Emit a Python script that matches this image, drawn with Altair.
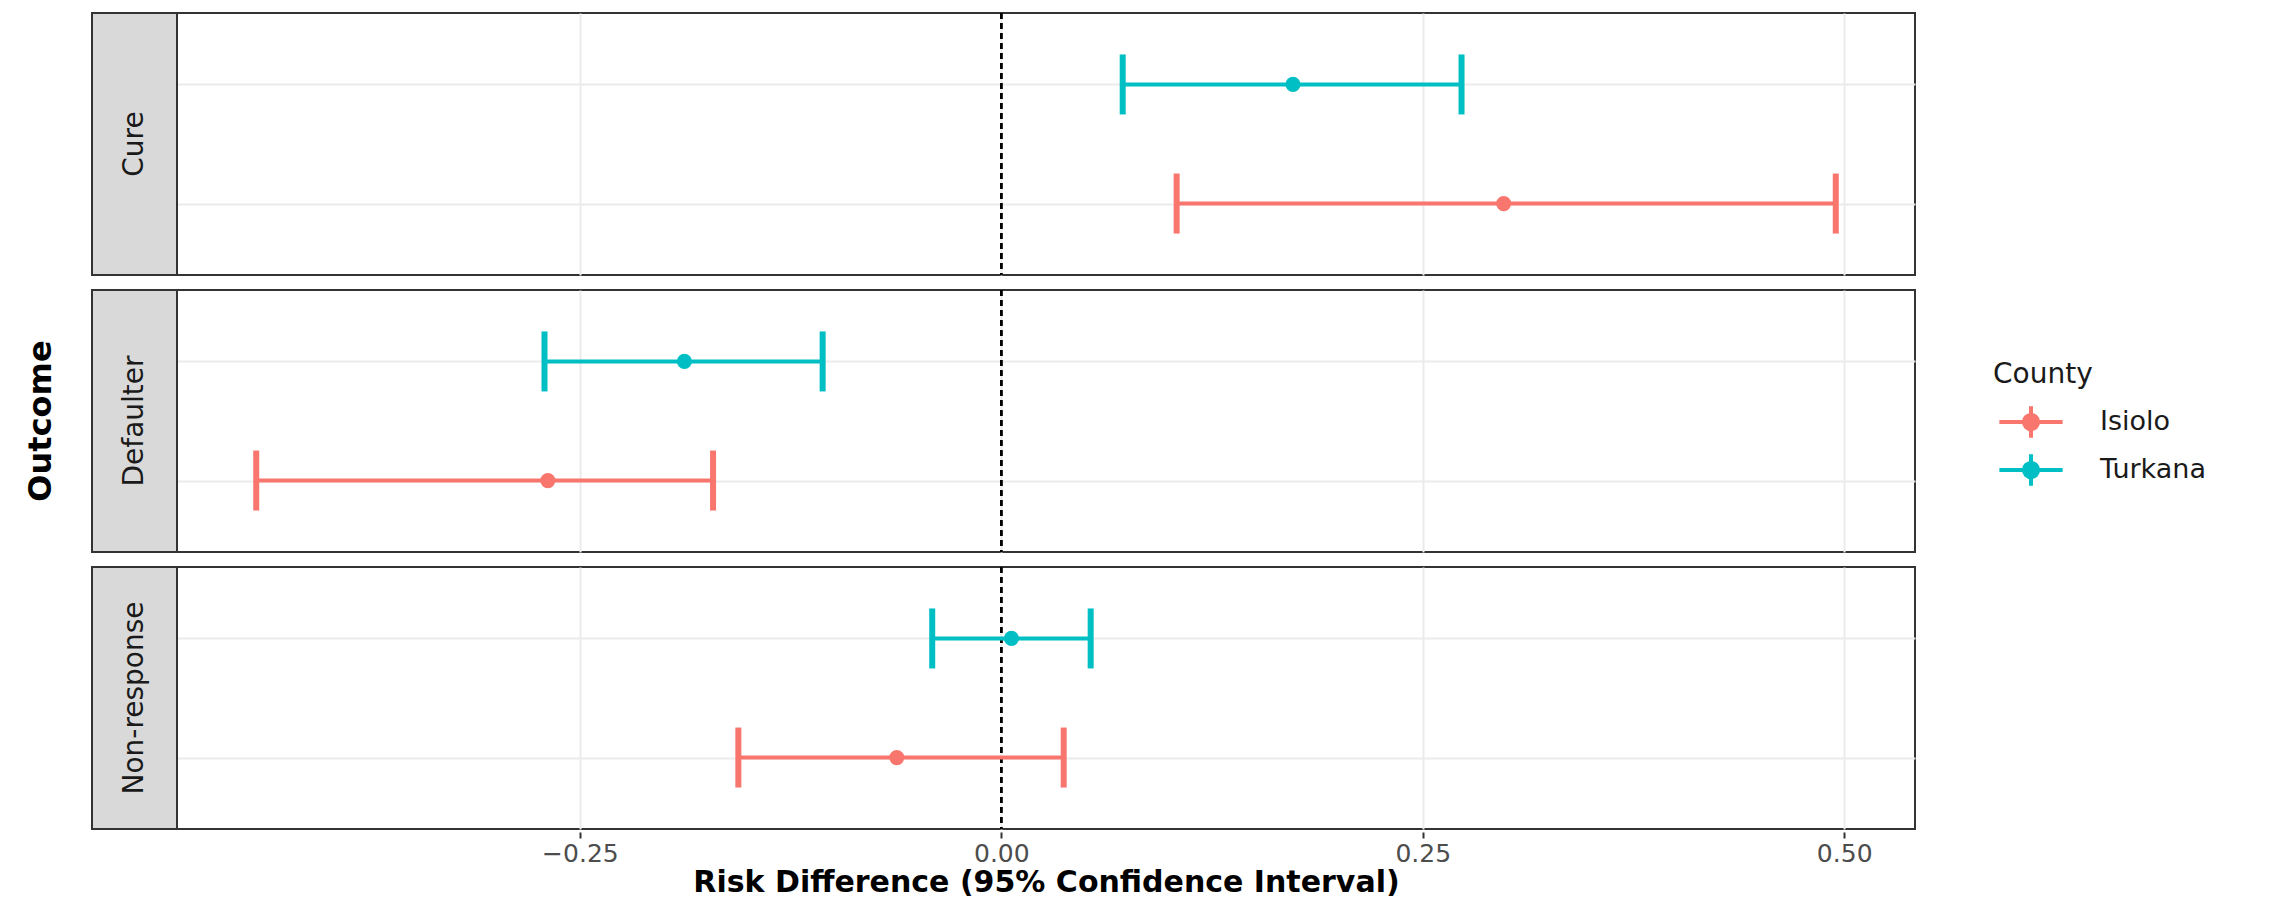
import altair as alt
import pandas as pd

# Data
outcomes = ["Cure", "Cure", "Defaulter", "Defaulter", "Non-response", "Non-response"]
counties = ["Turkana", "Isiolo", "Turkana", "Isiolo", "Turkana", "Isiolo"]
risk_diff = [0.173, 0.298, -0.188, -0.269, 0.006, -0.062]
ci_lower = [0.072, 0.104, -0.271, -0.442, -0.041, -0.156]
ci_upper = [0.273, 0.495, -0.106, -0.171, 0.053, 0.037]

outcome_order = ["Cure", "Defaulter", "Non-response"]
county_order = ["Isiolo", "Turkana"]
county_colors = ["#F8766D", "#00BFC4"]
x_ticks = [-0.25, 0.0, 0.25, 0.5]

df = pd.DataFrame({
    "outcome": outcomes,
    "county": counties,
    "rd": risk_diff,
    "lower": ci_lower,
    "upper": ci_upper,
})

W = 1823
H = 262
STRIP = 85
FONT = "DejaVu Sans"

xscale = alt.Scale(domain=[-0.489, 0.542], range=[STRIP, W], nice=False, zero=False)
xaxis = alt.Axis(values=x_ticks, format=".2f", labelFontSize=25, labelColor="#4D4D4D",
                 labelFont=FONT, tickColor="#333333", tickSize=6, tickWidth=2,
                 labelPadding=3, domain=False, grid=True, gridColor="#EBEBEB", gridWidth=2,
                 title="Risk Difference (95% Confidence Interval)", titleFont=FONT,
                 titleFontSize=30, titleFontWeight="bold", titleColor="black", titlePadding=1)

yenc = alt.Y("county:N",
             scale=alt.Scale(type="point", padding=0.6, domain=["Turkana", "Isiolo"]),
             axis=alt.Axis(labels=False, ticks=False, domain=False, title=None,
                           grid=True, gridColor="#EBEBEB", gridWidth=2))

cscale = alt.Scale(domain=county_order, range=county_colors)

legend = alt.Legend(
    title="County", orient="none", legendX=1901, legendY=348,
    titleFont=FONT, titleFontSize=28, titleFontWeight="normal", titleColor="#1A1A1A",
    titlePadding=15,
    labelFont=FONT, labelFontSize=27, labelColor="#1A1A1A", labelOffset=51,
    symbolOffset=20,
    symbolType="M-2,0H2M0,-1V1M0.45,0A0.45,0.45,0,1,1,-0.45,0A0.45,0.45,0,1,1,0.45,0Z",
    symbolSize=1000, symbolStrokeWidth=4, symbolOpacity=1, rowPadding=0,
)

color_leg = alt.Color("county:N", scale=cscale, legend=legend)

base = alt.Chart()

strip = base.mark_rect(fill="#D9D9D9", stroke="#333333", strokeWidth=2).encode(
    x=alt.value(0), x2=alt.value(STRIP), y=alt.value(0), y2=alt.value(H)
).transform_filter(alt.datum.county == "Isiolo")

strip_text = base.mark_text(angle=270, fontSize=28, font=FONT, color="#1A1A1A").encode(
    x=alt.value(STRIP / 2), y=alt.value(H / 2), text="outcome:N"
).transform_filter(alt.datum.county == "Isiolo")

vline = base.mark_rule(strokeDash=[6, 4], strokeWidth=2.5, color="black").encode(
    x=alt.datum(0, scale=xscale)
)

bars = base.mark_rule(strokeWidth=4).encode(
    x=alt.X("lower:Q", scale=xscale, axis=xaxis), x2="upper:Q", y=yenc, color=color_leg
)
cap_lo = base.mark_tick(size=60, thickness=6, opacity=1).encode(
    x=alt.X("lower:Q", scale=xscale, axis=xaxis), y=yenc, color=color_leg
)
cap_hi = base.mark_tick(size=60, thickness=6, opacity=1).encode(
    x=alt.X("upper:Q", scale=xscale, axis=xaxis), y=yenc, color=color_leg
)
points = base.mark_circle(size=230, opacity=1).encode(
    x=alt.X("rd:Q", scale=xscale, axis=xaxis), y=yenc, color=color_leg
)

layered = alt.layer(strip, vline, bars, cap_lo, cap_hi, points, strip_text, data=df).properties(
    width=W, height=H
)

chart = layered.facet(
    row=alt.Row("outcome:N", sort=outcome_order,
                header=alt.Header(labels=False, title="Outcome", titleFont=FONT,
                                  titleFontSize=32, titleFontWeight="bold",
                                  titleColor="black", titlePadding=22)),
    spacing=9,
).properties(
    padding={"left": 16, "top": 2, "right": 0, "bottom": 0}
).configure(
    background="white",
    view=alt.ViewConfig(stroke="#333333", strokeWidth=2),
)

chart.save("out.html", embed_options={"renderer": "svg", "actions": False})
